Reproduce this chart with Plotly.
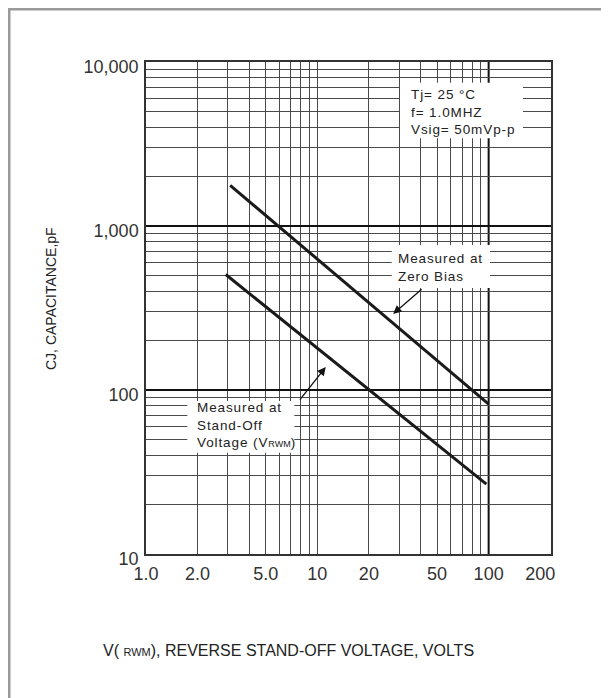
import numpy as np
import plotly.graph_objects as go

# ---- data ----
voltage_zero_bias = [3.1, 100]
cap_zero_bias = [1770, 82]

voltage_standoff = [2.92, 97]
cap_standoff = [506, 26.7]

x_tick_vals = [1, 2, 5, 10, 20, 50, 100, 200]
x_tick_text = ["1.0", "2.0", "5.0", "10", "20", "50", "100", "200"]
y_tick_vals = [10, 100, 1000, 10000]
y_tick_text = ["10", "100", "1,000", "10,000"]

x_minor_vals = [2, 3, 4, 5, 6, 7, 8, 9, 10, 20, 30, 40, 50, 60, 70, 80, 90]
y_minor_vals = [20, 30, 40, 50, 60, 70, 80, 90,
                200, 300, 400, 500, 600, 700, 800, 900,
                2000, 3000, 4000, 5000, 6000, 7000, 8000, 9000]

SP = "<span style='letter-spacing:0.9px'>"
cond_text = SP + "Tj= 25 °C</span><br>" + SP + "f= 1.0MHZ</span><br>" + SP + "Vsig= 50mVp-p</span>"
zero_text = SP + "Measured at</span><br>" + SP + "Zero Bias</span>"
standoff_text = (SP + "Measured at</span><br>" + SP + "Stand-Off</span><br>" + SP +
                 "Voltage (V</span><span style='font-size:9px'>RWM</span>)")
x_title = "V( <span style='font-size:11px'>RWM</span>), REVERSE STAND-OFF VOLTAGE, VOLTS"
y_title = "CJ, CAPACITANCE,pF"

zero_arrow_tip = (27.7, 291)
standoff_arrow_tip = (11.2, 138)

FONT = "Liberation Sans, Arial, sans-serif"
INK = "#222222"

# page has an 8px body margin; plot area lands at page x 146..551, y 62..554
ML, MR, MT, MB = 138, 58, 54, 144
FIG_W, FIG_H = 601, 690
PL, PT = 8 + ML, 8 + MT
PW, PH = FIG_W - ML - MR, FIG_H - MT - MB

fig = go.Figure()
for xs, ys in [(voltage_zero_bias, cap_zero_bias), (voltage_standoff, cap_standoff)]:
    fig.add_trace(go.Scatter(x=xs, y=ys, mode="lines",
                             line=dict(color="#1a1a1a", width=3),
                             showlegend=False, hoverinfo="skip"))

fig.update_layout(
    width=FIG_W, height=FIG_H,
    margin=dict(l=ML, r=MR, t=MT, b=MB),
    paper_bgcolor="white", plot_bgcolor="white",
    font=dict(family=FONT, color=INK),
    showlegend=False,
)

fig.update_xaxes(
    type="log", range=[0, 2.364],
    tickvals=x_tick_vals, ticktext=x_tick_text,
    tickfont=dict(size=18, color="#333333", family=FONT),
    showgrid=False, zeroline=False, ticks="",
    showline=True, linecolor="#333333", linewidth=1.5, mirror=True,
    ticklabelstandoff=3,
    minor=dict(tickvals=x_minor_vals, showgrid=True, gridcolor="#4a4a4a",
               gridwidth=1, ticks=""),
)
fig.update_yaxes(
    type="log", range=[1, 4],
    tickvals=y_tick_vals, ticktext=y_tick_text,
    tickfont=dict(size=18, color="#333333", family=FONT),
    showgrid=True, gridcolor="#111111", gridwidth=2,
    zeroline=False, ticks="",
    showline=True, linecolor="#333333", linewidth=1.5, mirror=True,
    ticklabelshift=5, ticklabelstandoff=2,
    minor=dict(tickvals=y_minor_vals, showgrid=True, gridcolor="#4a4a4a",
               gridwidth=1, ticks=""),
)

# thicker vertical line at 100
fig.add_shape(type="line", xref="x", yref="y domain", x0=100, x1=100, y0=0, y1=1,
              line=dict(color="#111111", width=2), layer="below")


def px_to_paper(px, py):
    return (px - PL) / PW, (PT + PH - py) / PH


# white boxes behind the labels
for (x0, y0, x1, y1) in [(400, 82.7, 523, 138.3), (391.7, 245, 490, 288), (187.3, 401, 294.3, 452.7)]:
    a0, b1 = px_to_paper(x0, y0)
    a1, b0 = px_to_paper(x1, y1)
    fig.add_shape(type="rect", xref="paper", yref="paper", x0=a0, x1=a1, y0=b0, y1=b1,
                  fillcolor="white", line=dict(width=0), layer="above")

# outer frame (left and top)
fl, ft = px_to_paper(9, 9)
fr, fb = px_to_paper(620, 710)
fig.add_shape(type="line", xref="paper", yref="paper", x0=fl, x1=fl, y0=fb, y1=ft + 0.003,
              line=dict(color="#9a9a9a", width=3))
fig.add_shape(type="line", xref="paper", yref="paper", x0=fl - 0.0037, x1=fr, y0=ft, y1=ft,
              line=dict(color="#9a9a9a", width=3))

# text labels
tx, ty = px_to_paper(409, 111.6)
fig.add_annotation(text=cond_text, xref="paper", yref="paper", x=tx, y=ty,
                   xanchor="left", yanchor="middle", align="left", showarrow=False,
                   font=dict(size=13.5, color=INK, family=FONT))
tx, ty = px_to_paper(396, 267.7)
fig.add_annotation(text=zero_text, xref="paper", yref="paper", x=tx, y=ty,
                   xanchor="left", yanchor="middle", align="left", showarrow=False,
                   font=dict(size=13.5, color=INK, family=FONT))
tx, ty = px_to_paper(195, 425)
fig.add_annotation(text=standoff_text, xref="paper", yref="paper", x=tx, y=ty,
                   xanchor="left", yanchor="middle", align="left", showarrow=False,
                   font=dict(size=13.5, color=INK, family=FONT))

# arrows
fig.add_annotation(text="", x=np.log10(zero_arrow_tip[0]), y=np.log10(zero_arrow_tip[1]),
                   xref="x", yref="y", showarrow=True, ax=30, ay=-26,
                   arrowhead=2, arrowsize=1.3, arrowwidth=1.3, arrowcolor="#111111")
fig.add_annotation(text="", x=np.log10(standoff_arrow_tip[0]), y=np.log10(standoff_arrow_tip[1]),
                   xref="x", yref="y", showarrow=True, ax=-27, ay=34,
                   arrowhead=2, arrowsize=1.3, arrowwidth=1.3, arrowcolor="#111111")

# axis titles
tx, ty = px_to_paper(288, 650)
fig.add_annotation(text=x_title, xref="paper", yref="paper", x=tx, y=ty,
                   xanchor="center", yanchor="middle", showarrow=False,
                   font=dict(size=16, color=INK, family=FONT))
tx, ty = px_to_paper(51, 299)
fig.add_annotation(text=y_title, xref="paper", yref="paper", x=tx, y=ty,
                   xanchor="center", yanchor="middle", showarrow=False, textangle=-90,
                   font=dict(size=14, color=INK, family=FONT))

fig.write_html("out.html")
